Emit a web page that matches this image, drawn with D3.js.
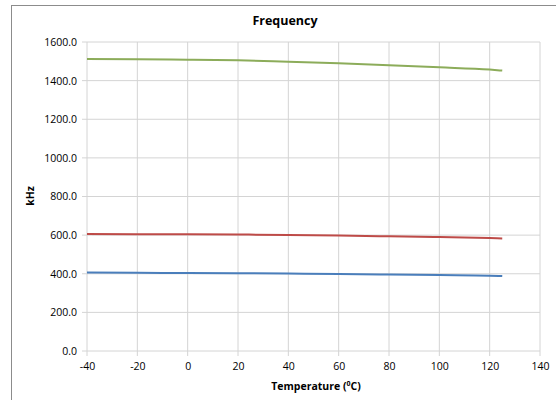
<!DOCTYPE html>
<html><head><meta charset="utf-8">
<script src="https://cdn.jsdelivr.net/npm/d3@7"></script>
<style>body{margin:0;background:#fff}svg{display:block}text{font-family:"Open Sans","Liberation Sans",sans-serif;fill:#000}</style>
</head><body><svg id="c" width="556" height="400"></svg>
<script>
const temps = [-40, -20, 0, 20, 40, 60, 80, 100, 120, 125];
const greenSeries = [1512, 1511, 1508, 1505, 1498, 1490, 1480, 1469, 1457, 1452];
const redSeries = [606, 605, 604, 603, 601, 598, 594, 590, 585, 583];
const blueSeries = [406, 405, 404, 403, 401, 399, 396, 393, 390, 388];
const xTicks = [-40, -20, 0, 20, 40, 60, 80, 100, 120, 140];
const yTicks = [0, 200, 400, 600, 800, 1000, 1200, 1400, 1600];
const series = [
  {name:"green", values: greenSeries, color:"#8cac5a"},
  {name:"red", values: redSeries, color:"#be4b48"},
  {name:"blue", values: blueSeries, color:"#4a7ebb"}
];

const svg = d3.select("#c");
const L = 87, R = 540, T = 42, B = 351;
const x = d3.scaleLinear().domain([-40, 140]).range([L, R]);
const y = d3.scaleLinear().domain([0, 1600]).range([B, T]);

svg.append("rect").attr("x", 11.5).attr("y", 5.5).attr("width", 560).attr("height", 420)
  .attr("fill", "none").attr("stroke", "#8c8c8c").attr("stroke-width", 1);

const g = svg.append("g");
g.selectAll(".vg").data(xTicks).join("line")
  .attr("x1", d => x(d)).attr("x2", d => x(d)).attr("y1", T).attr("y2", B + 5)
  .attr("stroke", "#d4d4d4").attr("stroke-width", 1);
g.selectAll(".hg").data(yTicks).join("line")
  .attr("x1", L - 5).attr("x2", R).attr("y1", d => y(d)).attr("y2", d => y(d))
  .attr("stroke", "#d4d4d4").attr("stroke-width", 1);

const xa = svg.append("g").attr("transform", `translate(0,${B})`)
  .call(d3.axisBottom(x).tickValues(xTicks).tickSize(0).tickPadding(12).tickFormat(d => String(d)));
xa.select(".domain").remove();
xa.selectAll("text").style("font-size", "10.5px").style("font-family", '"Open Sans",sans-serif').attr("fill", "#333");

const ya = svg.append("g").attr("transform", `translate(${L},0)`)
  .call(d3.axisLeft(y).tickValues(yTicks).tickSize(0).tickPadding(10).tickFormat(d => d.toFixed(1)));
ya.select(".domain").remove();
ya.selectAll("text").style("font-size", "10.5px").style("font-family", '"Open Sans",sans-serif').attr("fill", "#333");

const line = d3.line().x((d, i) => x(temps[i])).y(d => y(d)).curve(d3.curveMonotoneX);
svg.selectAll(".s").data(series).join("path")
  .attr("d", d => line(d.values)).attr("fill", "none")
  .attr("stroke", d => d.color).attr("stroke-width", 2);

svg.append("text").attr("x", 285).attr("y", 25).attr("text-anchor", "middle")
  .style("font-size", "12.5px").style("font-weight", "bold").text("Frequency");

svg.append("text").attr("transform", "translate(34,196) rotate(-90)").attr("text-anchor", "middle")
  .style("font-size", "10.5px").style("font-weight", "bold").text("kHz");

const xt = svg.append("text").attr("x", 316).attr("y", 390).attr("text-anchor", "middle")
  .style("font-size", "10.5px").style("font-weight", "bold");
xt.append("tspan").text("Temperature (");
xt.append("tspan").attr("baseline-shift", "super").style("font-size", "7px").text("0");
xt.append("tspan").text("C)");
</script></body></html>
